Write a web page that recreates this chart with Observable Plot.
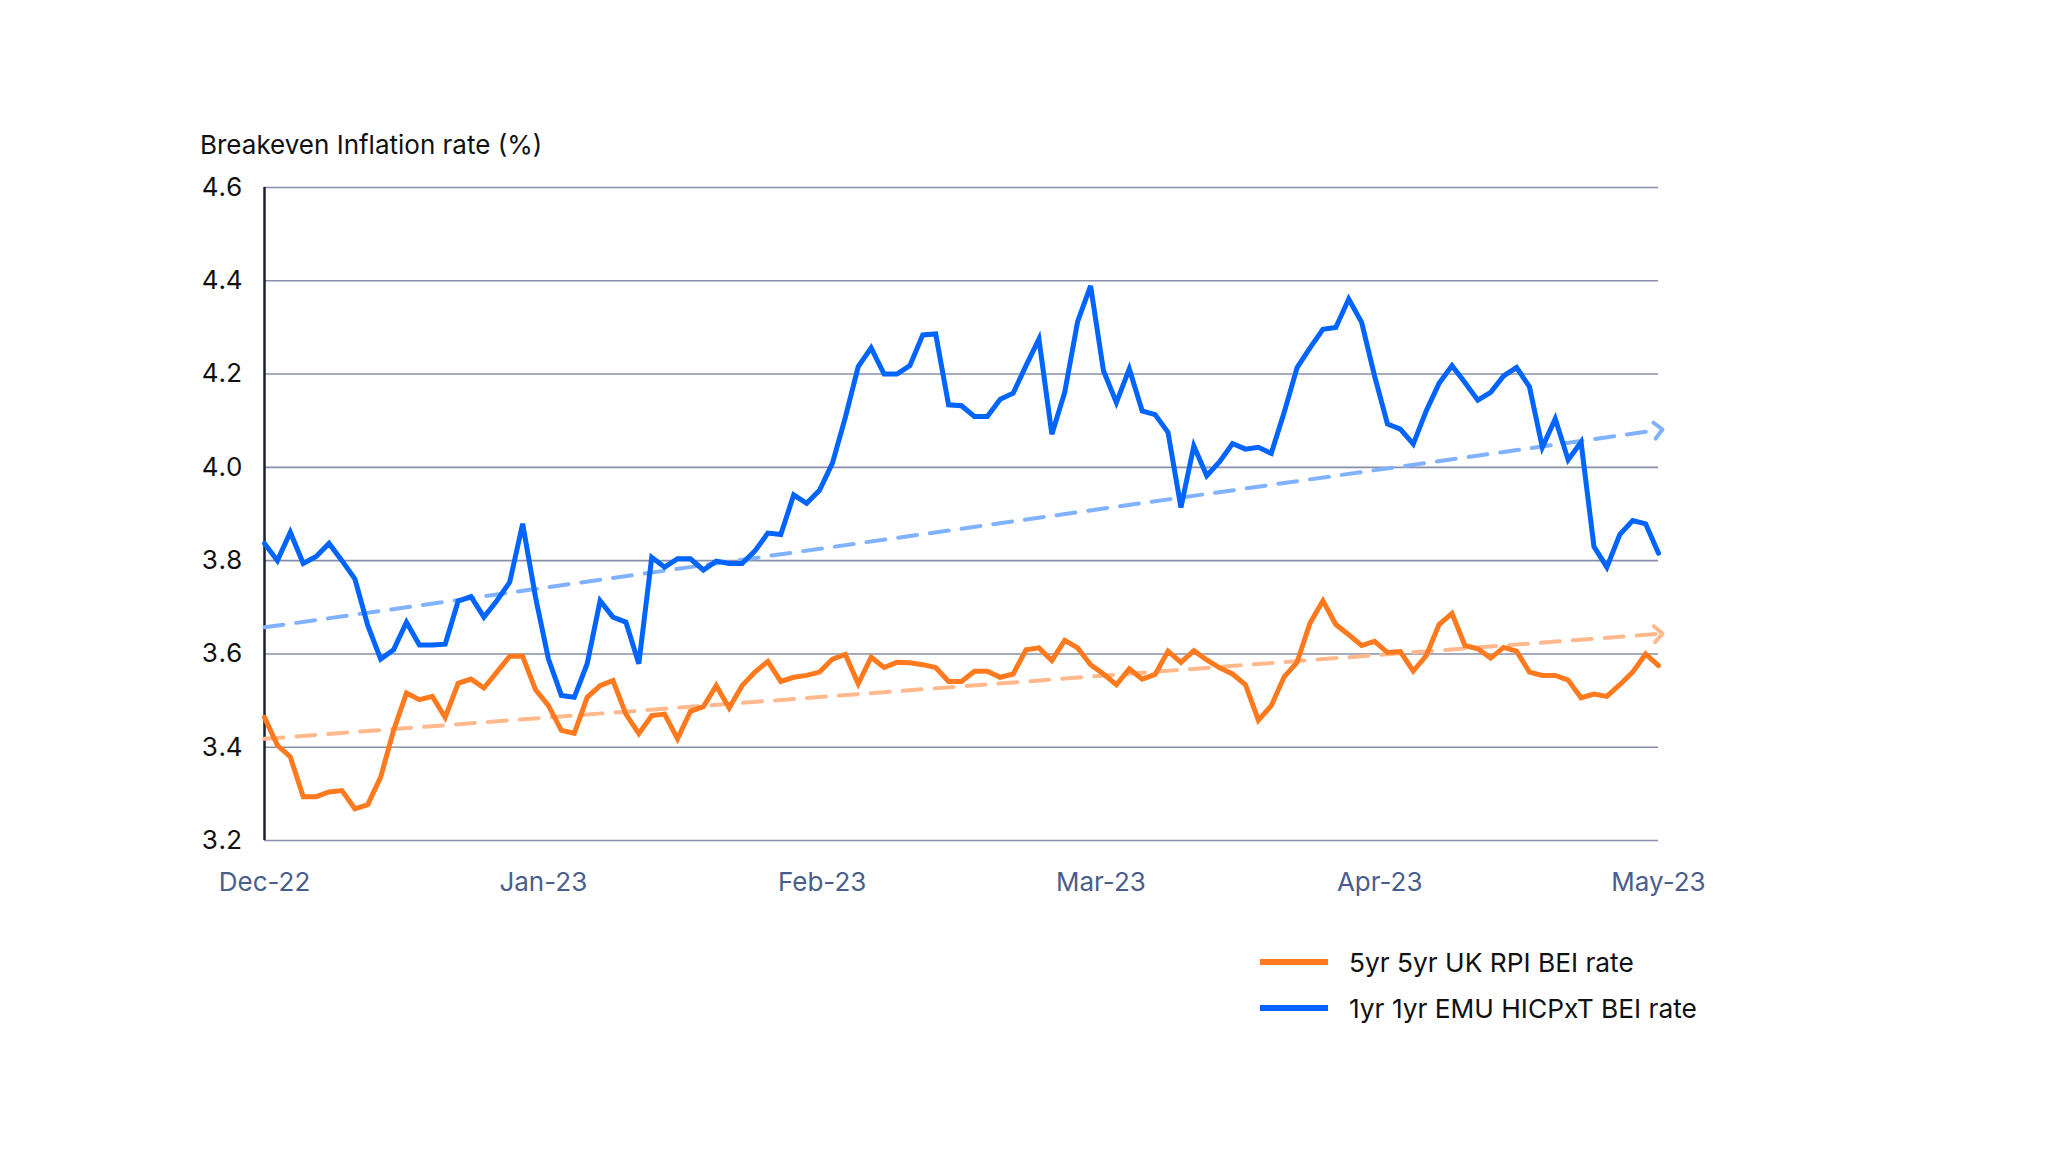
<!DOCTYPE html>
<html><head><meta charset="utf-8">
<script src="https://cdn.jsdelivr.net/npm/d3@7"></script>
<script src="https://cdn.jsdelivr.net/npm/@observablehq/plot@0.6"></script>
<style>
body{margin:0;background:#fff;font-family:Inter,sans-serif;}
#wrap{position:relative;width:2048px;height:1174px;overflow:hidden;}
#title{height:160px;box-sizing:border-box;padding-top:132px;padding-left:200px;font-size:26px;line-height:26px;color:#111;}
.leg{position:absolute;left:1260px;height:30px;font-size:26.3px;color:#111;display:flex;align-items:center;white-space:nowrap;}
.sw{width:68px;height:6px;margin-right:21px;}
</style></head>
<body><div id="wrap"><div id="title">Breakeven Inflation rate (%)</div><div id="chart"></div></div>
<script>
const monthLabels = ["Dec-22","Jan-23","Feb-23","Mar-23","Apr-23","May-23"];
const yTicks = [3.2,3.4,3.6,3.8,4.0,4.2,4.4,4.6];
const seriesNames = ["5yr 5yr UK RPI BEI rate","1yr 1yr EMU HICPxT BEI rate"];
const uk5y5y = [3.464,3.404,3.379,3.294,3.294,3.304,3.307,3.268,3.277,3.336,
3.436,3.516,3.502,3.509,3.464,3.537,3.546,3.527,3.561,3.595,
3.595,3.523,3.489,3.436,3.430,3.507,3.532,3.543,3.471,3.429,
3.468,3.471,3.418,3.477,3.487,3.532,3.484,3.532,3.561,3.584,
3.541,3.550,3.554,3.561,3.589,3.599,3.536,3.593,3.571,3.582,
3.581,3.577,3.571,3.541,3.541,3.563,3.563,3.550,3.557,3.609,
3.613,3.586,3.629,3.613,3.577,3.557,3.534,3.568,3.546,3.556,
3.606,3.582,3.607,3.587,3.570,3.557,3.534,3.458,3.489,3.551,
3.582,3.666,3.714,3.663,3.641,3.618,3.627,3.603,3.605,3.563,
3.596,3.663,3.687,3.618,3.611,3.591,3.614,3.606,3.561,3.554,
3.554,3.544,3.506,3.514,3.509,3.534,3.561,3.600,3.575];
const emu1y1y = [3.837,3.800,3.861,3.794,3.809,3.837,3.800,3.761,3.661,3.589,
3.609,3.668,3.619,3.619,3.621,3.713,3.723,3.679,3.714,3.754,
3.879,3.721,3.589,3.511,3.507,3.579,3.714,3.679,3.668,3.579,
3.807,3.786,3.804,3.804,3.780,3.799,3.794,3.794,3.821,3.859,
3.856,3.941,3.923,3.951,4.009,4.107,4.216,4.256,4.200,4.200,
4.218,4.284,4.286,4.134,4.132,4.109,4.109,4.146,4.159,4.218,
4.275,4.071,4.161,4.313,4.389,4.207,4.139,4.211,4.121,4.113,
4.075,3.914,4.046,3.982,4.012,4.051,4.039,4.043,4.030,4.118,
4.214,4.256,4.296,4.300,4.361,4.311,4.196,4.093,4.082,4.050,
4.121,4.180,4.218,4.182,4.144,4.161,4.196,4.214,4.173,4.043,
4.104,4.016,4.054,3.830,3.786,3.856,3.886,3.879,3.816];
const ukTrend = [3.418, 3.643];
const emuTrend = [3.657, 4.080];
const colors = ["#FF7A1F","#0064FF"];
const trendColors = ["#FFB98C","#80B2FF"];

const last = uk5y5y.length - 1;
const nm = monthLabels.length - 1;
const monthTicks = monthLabels.map((_, k) => k * last / nm);
const ukRows = uk5y5y.map((v, i) => ({i, v}));
const emuRows = emu1y1y.map((v, i) => ({i, v}));
const ukTrendRows = [{i: 0, v: ukTrend[0]}, {i: last, v: ukTrend[1]}];
const emuTrendRows = [{i: 0, v: emuTrend[0]}, {i: last, v: emuTrend[1]}];

const plot = Plot.plot({
  width: 2048, height: 760,
  marginLeft: 264, marginRight: 390, marginTop: 27, marginBottom: 80,
  style: {fontFamily: "Inter, sans-serif", fontSize: "26px", background: "transparent", overflow: "visible"},
  x: {domain: [0, last]},
  y: {domain: [3.2, 4.6]},
  marks: [
    Plot.gridY(yTicks, {stroke: "#8790A8", strokeOpacity: 1, strokeWidth: 1.6}),
    Plot.axisY(yTicks, {tickSize: 0, tickPadding: 22, tickFormat: d => d.toFixed(1), fill: "#111", label: null, fontSize: 26}),
    Plot.axisX(monthTicks, {tickSize: 0, tickPadding: 32, tickFormat: d => monthLabels[Math.round(d * nm / last)], fill: "#4A5E8C", label: null, fontSize: 26, fontVariant: "normal"}),
    Plot.ruleX([0], {stroke: "#1B1F2E", strokeWidth: 2.5}),
    Plot.line(ukTrendRows, {x: "i", y: "v", stroke: trendColors[0], strokeWidth: 4, strokeDasharray: "19,13", markerEnd: "arrow"}),
    Plot.line(emuTrendRows, {x: "i", y: "v", stroke: trendColors[1], strokeWidth: 4, strokeDasharray: "19,13", markerEnd: "arrow"}),
    Plot.line(ukRows, {x: "i", y: "v", stroke: colors[0], strokeWidth: 5, strokeLinejoin: "miter", strokeMiterlimit: 4}),
    Plot.line(emuRows, {x: "i", y: "v", stroke: colors[1], strokeWidth: 5, strokeLinejoin: "miter", strokeMiterlimit: 4})
  ]
});
plot.querySelectorAll("marker, marker path").forEach(p => p.setAttribute("stroke-dasharray", "none"));
document.getElementById("chart").appendChild(plot);

const wrap = document.getElementById("wrap");
[947, 993].forEach((top, k) => {
  const d = document.createElement("div");
  d.className = "leg";
  d.style.top = top + "px";
  const sw = document.createElement("div");
  sw.className = "sw";
  sw.style.background = colors[k];
  const t = document.createElement("span");
  t.textContent = seriesNames[k];
  d.appendChild(sw); d.appendChild(t);
  wrap.appendChild(d);
});
</script>
</body></html>
